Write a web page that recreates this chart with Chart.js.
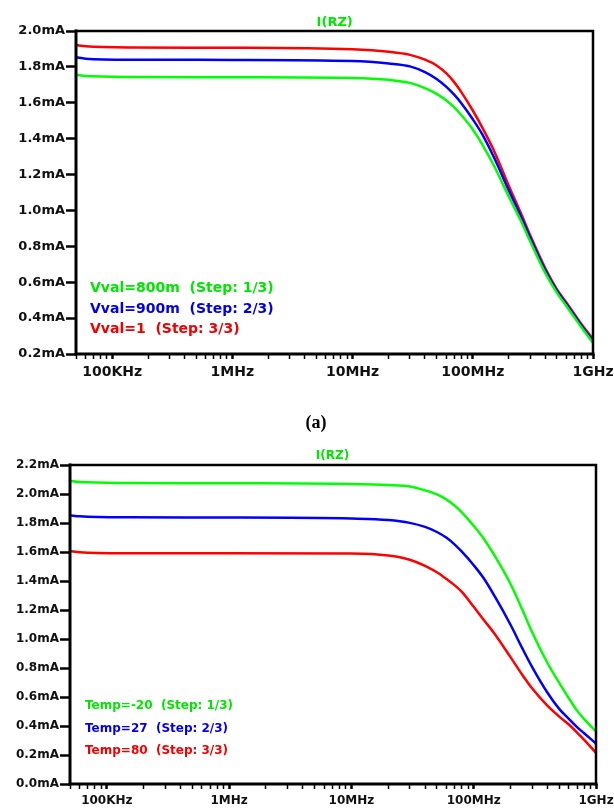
<!DOCTYPE html>
<html><head><meta charset="utf-8">
<script src="https://cdn.jsdelivr.net/npm/chart.js@4.4.1/dist/chart.umd.min.js"></script>
<style>
html,body{margin:0;padding:0;background:#fff;width:614px;height:810px;overflow:hidden;position:relative;}
canvas{position:absolute;left:0;}
.t{position:absolute;font-family:"DejaVu Sans";font-weight:bold;white-space:pre;line-height:1;}
</style></head><body>
<canvas id="ca" width="614" height="395" style="top:0"></canvas>
<canvas id="cb" width="614" height="380" style="top:430px"></canvas>
<div id="txt"></div>
<script>
// ---------- data ----------
const freqs = [50e3, 60e3, 150e3, 1e6, 10e6, 20e6, 30e6, 40e6, 50e6, 60e6, 70e6, 80e6,
  100e6, 120e6, 150e6, 200e6, 250e6, 300e6, 400e6, 500e6, 600e6, 700e6, 800e6, 1e9];

// (a) Vval sweep, I(RZ) in mA
const vval800m = [1.757,1.749,1.744,1.742,1.738,1.728,1.711,1.682,1.650,1.614,1.574,1.532,
  1.451,1.367,1.249,1.075,0.945,0.828,0.652,0.542,0.467,0.404,0.349,0.262];
const vval900m = [1.854,1.846,1.840,1.839,1.833,1.819,1.803,1.771,1.733,1.690,1.645,1.599,
  1.508,1.424,1.296,1.109,0.970,0.850,0.668,0.553,0.479,0.415,0.359,0.273];
const vval1 = [1.922,1.915,1.908,1.907,1.898,1.884,1.867,1.840,1.808,1.765,1.715,1.661,
  1.557,1.462,1.333,1.135,0.988,0.862,0.679,0.562,0.487,0.423,0.367,0.283];
const vvalLabels = ['Vval=800m  (Step: 1/3)', 'Vval=900m  (Step: 2/3)', 'Vval=1  (Step: 3/3)'];

// (b) Temp sweep, I(RZ) in mA
const tempM20 = [2.092,2.082,2.076,2.074,2.069,2.062,2.052,2.025,1.997,1.961,1.919,1.874,
  1.780,1.695,1.568,1.379,1.201,1.048,0.836,0.697,0.591,0.506,0.447,0.362];
const temp27 = [1.853,1.846,1.839,1.838,1.831,1.821,1.801,1.773,1.738,1.698,1.651,1.602,
  1.509,1.422,1.288,1.098,0.935,0.808,0.631,0.518,0.449,0.392,0.350,0.279];
const temp80 = [1.607,1.599,1.592,1.591,1.590,1.576,1.547,1.505,1.460,1.413,1.370,1.325,
  1.222,1.135,1.030,0.875,0.752,0.660,0.540,0.465,0.410,0.355,0.305,0.215];
const tempLabels = ['Temp=-20  (Step: 1/3)', 'Temp=27  (Step: 2/3)', 'Temp=80  (Step: 3/3)'];

const majorFreqs = [1e5, 1e6, 1e7, 1e8, 1e9];
const majorLabels = ['100KHz', '1MHz', '10MHz', '100MHz', '1GHz'];
const yTicksA = [0.2,0.4,0.6,0.8,1.0,1.2,1.4,1.6,1.8,2.0];
const yTicksB = [0.0,0.2,0.4,0.6,0.8,1.0,1.2,1.4,1.6,1.8,2.0,2.2];
const titleText = 'I(RZ)';
const colors = ['#00ff00', '#0000ff', '#ff0000'];
const textColors = ['#00e600', '#0000ee', '#f00000'];

// ---------- helpers ----------
const logTicks = [];
for (let e = 4; e <= 8; e++) for (let d = 1; d <= 9; d++) {
  const v = d * Math.pow(10, e);
  if (v >= 5e4 && v <= 1e9) logTicks.push(v);
}
logTicks.push(1e9);
function majorIndex(v) {
  return majorFreqs.findIndex(m => Math.abs(m - v) / m < 1e-6);
}

const framePlugin = {
  id: 'frame',
  afterDraw(chart) {
    const { ctx, chartArea: a } = chart;
    ctx.save();
    ctx.strokeStyle = '#000';
    ctx.lineCap = 'square';
    ctx.lineWidth = 2.5;
    ctx.beginPath();
    ctx.moveTo(a.left, a.top); ctx.lineTo(a.right, a.top); ctx.lineTo(a.right, a.bottom);
    ctx.stroke();
    ctx.lineWidth = 3;
    ctx.beginPath();
    ctx.moveTo(a.left, a.top); ctx.lineTo(a.left, a.bottom); ctx.lineTo(a.right, a.bottom);
    ctx.stroke();
    ctx.restore();
  }
};

function makeChart(id, series, g) {
  const canvas = document.getElementById(id);
  const H = canvas.height;
  return new Chart(canvas, {
    type: 'line',
    data: {
      datasets: series.map((s, i) => ({
        data: freqs.map((f, k) => ({ x: f, y: s[k] })),
        borderColor: colors[i],
        borderWidth: 2.5,
        pointRadius: 0,
        cubicInterpolationMode: 'monotone',
        fill: false
      }))
    },
    options: {
      responsive: false,
      animation: false,
      devicePixelRatio: 1,
      layout: { padding: { top: g.top, right: g.right, left: 0, bottom: 0 } },
      plugins: { legend: { display: false }, tooltip: { enabled: false }, title: { display: false } },
      scales: {
        x: {
          type: 'logarithmic', min: 5e4, max: 1e9,
          afterBuildTicks: s => { s.ticks = logTicks.map(v => ({ value: v })); },
          afterFit: s => { s.height = H - g.bottom; s.paddingLeft = 0; s.paddingRight = 0; },
          border: { display: false },
          grid: {
            drawOnChartArea: false, drawTicks: true, tickLength: 5, tickColor: '#000',
            tickWidth: c => (c.tick && majorIndex(c.tick.value) >= 0) ? 2.5 : 1.5
          },
          ticks: {
            autoSkip: false, maxRotation: 0, minRotation: 0, padding: g.xpad, color: '#111',
            font: { family: 'DejaVu Sans', weight: 'bold', size: g.xfont },
            callback: v => { const i = majorIndex(v); return i >= 0 ? majorLabels[i] : ''; }
          }
        },
        y: {
          min: g.ymin, max: g.ymax,
          afterBuildTicks: s => { s.ticks = g.yticks.map(v => ({ value: v })); },
          afterFit: s => { s.width = g.left; },
          border: { display: false },
          grid: { drawOnChartArea: false, drawTicks: true, tickLength: 10, tickColor: '#000', tickWidth: 2.5 },
          ticks: {
            padding: 1, color: '#111',
            font: { family: 'DejaVu Sans', weight: 'bold', size: g.yfont },
            callback: v => v.toFixed(1) + 'mA'
          }
        }
      }
    },
    plugins: [framePlugin]
  });
}

makeChart('ca', [vval800m, vval900m, vval1],
  { top: 31, right: 21, left: 76, bottom: 354, xpad: 5, xfont: 14, yfont: 13, ymin: 0.2, ymax: 2.0, yticks: yTicksA });
makeChart('cb', [tempM20, temp27, temp80],
  { top: 35, right: 18, left: 70, bottom: 354, xpad: 5, xfont: 12, yfont: 12, ymin: 0.0, ymax: 2.2, yticks: yTicksB });

// ---------- texts ----------
const txt = document.getElementById('txt');
function addText(s, x, y, size, color, center, family) {
  const d = document.createElement('div');
  d.className = 't';
  d.textContent = s;
  d.style.left = x + 'px';
  d.style.top = y + 'px';
  d.style.fontSize = size + 'px';
  d.style.color = color;
  if (family) d.style.fontFamily = family;
  d.style.transform = center ? 'translate(-50%,-50%)' : 'translateY(-50%)';
  txt.appendChild(d);
}
addText(titleText, 334.7, 20.5, 13, textColors[0], true);
addText(titleText, 332.5, 455, 12, textColors[0], true);
vvalLabels.forEach((s, i) => addText(s, 90, [287, 307.5, 328][i], 14, textColors[i], false));
tempLabels.forEach((s, i) => addText(s, 85, [705, 727.5, 750][i], 12, textColors[i], false));
addText('(a)', 316, 421.5, 18, '#000', true, '"Liberation Serif"');
</script>
</body></html>
